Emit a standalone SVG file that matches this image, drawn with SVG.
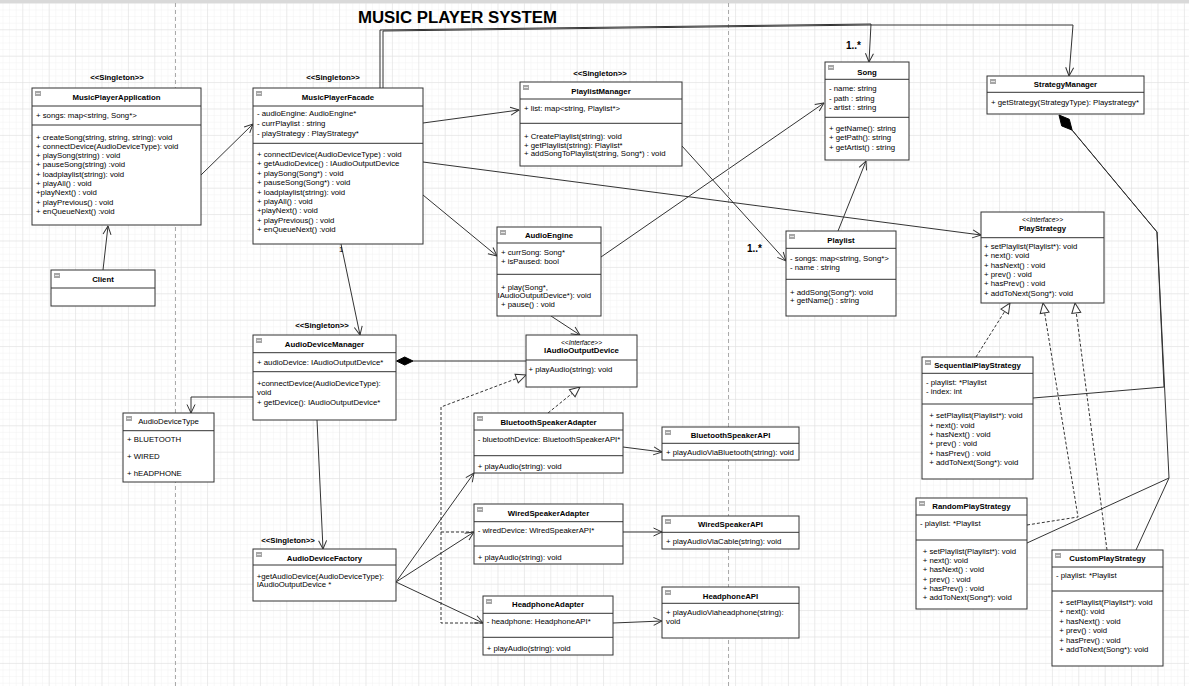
<svg xmlns="http://www.w3.org/2000/svg" xmlns:xlink="http://www.w3.org/1999/xlink" width="1189" height="686" viewBox="0 0 1189 686">
<style>
.box{fill:#fff;stroke:#333;stroke-width:1}
.sep{stroke:#333;stroke-width:1}
.t{font-family:"Liberation Sans",Arial,Helvetica,sans-serif;font-size:7.8px;fill:#000}
.b{font-weight:bold}
.c{text-anchor:middle}
.i{font-style:italic;font-size:6.6px}
.ln{stroke:#333;stroke-width:1;fill:none}
.dash{stroke-dasharray:3,2}
.ml{font-family:"Liberation Sans",Arial,sans-serif;font-size:10px;font-weight:bold;fill:#000}
</style>
<defs>
<pattern id="minor" width="6.6" height="6.6" x="2.5" y="2.9" patternUnits="userSpaceOnUse"><path d="M0,0 H6.6 M0,0 V6.6" stroke="#f1f1f1" stroke-width="1" fill="none"/></pattern>
<pattern id="major" width="26.4" height="26.4" x="22.3" y="2.9" patternUnits="userSpaceOnUse"><path d="M0,0 H26.4 M0,0 V26.4" stroke="#dedede" stroke-width="1" fill="none"/></pattern>
<g id="ic"><rect width="6" height="5" fill="#a6a6a6"/><rect x="1" y="2" width="4" height="1" fill="#e6e6e6"/></g>
<marker id="open" viewBox="0 0 10 10" refX="9.5" refY="5" markerWidth="10" markerHeight="10" markerUnits="userSpaceOnUse" orient="auto"><path d="M1,1 L9.5,5 L1,9" fill="none" stroke="#333" stroke-width="1"/></marker>
<marker id="tri" viewBox="0 0 12 12" refX="11" refY="6" markerWidth="12" markerHeight="12" markerUnits="userSpaceOnUse" orient="auto"><path d="M1,1.5 L11,6 L1,10.5 Z" fill="#fff" stroke="#333" stroke-width="1"/></marker>
</defs>
<rect width="1189" height="686" fill="#fff"/>
<rect width="1189" height="686" fill="url(#minor)"/>
<rect width="1189" height="686" fill="url(#major)"/>
<rect width="1189" height="3" fill="#d9d9d9"/>
<line x1="175.5" y1="3" x2="175.5" y2="686" stroke="#aaa" stroke-dasharray="4,3"/>
<line x1="728.5" y1="3" x2="728.5" y2="686" stroke="#aaa" stroke-dasharray="4,3"/>
<text x="358" y="23" font-family="Liberation Sans,Arial,sans-serif" font-size="16" font-weight="bold" textLength="199" lengthAdjust="spacingAndGlyphs">MUSIC PLAYER SYSTEM</text>

<g id="connectors">
<path class="ln" d="M103,270 L108,226" marker-end="url(#open)"/>
<path class="ln" d="M201,175 L253,124" marker-end="url(#open)"/>
<path class="ln" d="M423,123 L519,110" marker-end="url(#open)"/>
<path class="ln" d="M423,195 L497,256" marker-end="url(#open)"/>
<path class="ln" d="M423,162 L981,235" marker-end="url(#open)"/>
<path class="ln" d="M601,257 L824,103" marker-end="url(#open)"/>
<path class="ln" d="M682,146 L786,261" marker-end="url(#open)"/>
<path class="ln" d="M838,231 L866,161" marker-end="url(#open)"/>
<path class="ln" d="M380,88 V30 L871,24 L869,62" marker-end="url(#open)"/>
<path class="ln" d="M383,88 V31 L871,25 H1073 L1069,76" marker-end="url(#open)"/>
<path class="ln" d="M341,244 L360,335" marker-end="url(#open)"/>
<path class="ln" d="M253,397 H191 V413" marker-end="url(#open)"/>
<path class="ln" d="M413,361 H526"/>
<polygon points="396.5,361 404.7,357 413,361 404.7,365" fill="#000" stroke="#000"/>
<path class="ln" d="M317,420 L323,549" marker-end="url(#open)"/>
<path class="ln" d="M551,316 L580,335" marker-end="url(#open)"/>
<path class="ln dash" d="M548,413 L580,387" marker-end="url(#tri)"/>
<path class="ln dash" d="M483,623 H441 V407 L526,375" marker-end="url(#tri)"/>
<path class="ln dash" d="M474,532 H441"/>
<path class="ln" d="M623,447 L662,452" marker-end="url(#open)"/>
<path class="ln" d="M623,532 H662" marker-end="url(#open)"/>
<path class="ln" d="M613,623 L662,621" marker-end="url(#open)"/>
<path class="ln" d="M396,582 L474,473" marker-end="url(#open)"/>
<path class="ln" d="M396,582 L474,532" marker-end="url(#open)"/>
<path class="ln" d="M396,582 L483,623" marker-end="url(#open)"/>
<path class="ln dash" d="M976,357 L1010,303" marker-end="url(#tri)"/>
<path class="ln dash" d="M1027,525 L1078,517 L1043,303" marker-end="url(#tri)"/>
<path class="ln dash" d="M1107,550 L1075,303" marker-end="url(#tri)"/>
<path class="ln" d="M1033,398 L1164,387 L1157,232 L1072,130"/>
<path class="ln" d="M1027,543 L1169,478 L1157,232 L1072,130"/>
<path class="ln" d="M1136,550 L1169,478"/>
<polygon points="1059,115 1069.3,119.3 1072.1,130.1 1061.7,125.9" fill="#000" stroke="#000"/>
<text class="ml" x="846" y="49">1..*</text>
<text class="ml" x="747" y="252">1..*</text>
<text class="t" x="339" y="252" font-size="6">1</text>
</g>

<g id="musicPlayerApplication">
<text class="t b c" x="117" y="80">&lt;&lt;Singleton&gt;&gt;</text>
<rect class="box" x="32" y="88" width="169" height="137"/>
<use href="#ic" x="35" y="91"/>
<line class="sep" x1="32" y1="106" x2="201" y2="106"/>
<line class="sep" x1="32" y1="125" x2="201" y2="125"/>
<text class="t b c" x="116.5" y="100">MusicPlayerApplication</text>
<text class="t" x="36" y="118">+ songs: map&lt;string, Song*&gt;</text>
<text class="t" x="36" y="139.5">+ createSong(string, string, string): void</text>
<text class="t" x="36" y="148.5">+ connectDevice(AudioDeviceType): void</text>
<text class="t" x="36" y="157.8">+ playSong(string) : void</text>
<text class="t" x="36" y="167.1">+ pauseSong(string) :void</text>
<text class="t" x="36" y="176.8">+ loadplaylist(string): void</text>
<text class="t" x="36" y="186.1">+ playAll() : void</text>
<text class="t" x="36" y="195.1">+playNext() : void</text>
<text class="t" x="36" y="205.1">+ playPrevious() : void</text>
<text class="t" x="36" y="214.1">+ enQueueNext() :void</text>
</g>

<g id="client">
<rect class="box" x="51" y="270" width="104" height="36"/>
<use href="#ic" x="54" y="273"/>
<line class="sep" x1="51" y1="288" x2="155" y2="288"/>
<text class="t b c" x="103" y="282">Client</text>
</g>

<g id="musicPlayerFacade">
<text class="t b c" x="333" y="80">&lt;&lt;Singleton&gt;&gt;</text>
<rect class="box" x="253" y="88" width="170" height="156"/>
<use href="#ic" x="256" y="91"/>
<line class="sep" x1="253" y1="106" x2="423" y2="106"/>
<line class="sep" x1="253" y1="143.3" x2="423" y2="143.3"/>
<text class="t b c" x="338" y="100">MusicPlayerFacade</text>
<text class="t" x="257" y="116.1">- audioEngine: AudioEngine*</text>
<text class="t" x="257" y="126.1">- currPlaylist : string</text>
<text class="t" x="257" y="136.1">- playStrategy : PlayStrategy*</text>
<text class="t" x="257" y="157.1">+ connectDevice(AudioDeviceType) : void</text>
<text class="t" x="257" y="166.1">+ getAudioDevice() : IAudioOutputDevice</text>
<text class="t" x="257" y="175.5">+ playSong(Song*) : void</text>
<text class="t" x="257" y="185.1">+ pauseSong(Song*) : void</text>
<text class="t" x="257" y="195.1">+ loadplaylist(string): void</text>
<text class="t" x="257" y="204.1">+ playAll() : void</text>
<text class="t" x="257" y="213.1">+playNext() : void</text>
<text class="t" x="257" y="223.1">+ playPrevious() : void</text>
<text class="t" x="257" y="232.1">+ enQueueNext() :void</text>
</g>

<g id="playlistManager">
<text class="t b c" x="600" y="76">&lt;&lt;Singleton&gt;&gt;</text>
<rect class="box" x="520" y="82" width="162" height="84"/>
<use href="#ic" x="523" y="85"/>
<line class="sep" x1="520" y1="99" x2="682" y2="99"/>
<line class="sep" x1="520" y1="123.3" x2="682" y2="123.3"/>
<text class="t b c" x="601" y="93.5">PlaylistManager</text>
<text class="t" x="524" y="110.5">+ list: map&lt;string, Playlist*&gt;</text>
<text class="t" x="524" y="138.5">+ CreatePlaylist(string): void</text>
<text class="t" x="524" y="147.5">+ getPlaylist(string): Playlist*</text>
<text class="t" x="524" y="156.1">+ addSongToPlaylist(string, Song*) : void</text>
</g>

<g id="audioEngine">
<rect class="box" x="497" y="227" width="104" height="89"/>
<use href="#ic" x="500" y="230"/>
<line class="sep" x1="497" y1="243" x2="601" y2="243"/>
<line class="sep" x1="497" y1="274.3" x2="601" y2="274.3"/>
<text class="t b c" x="549" y="237.8">AudioEngine</text>
<text class="t" x="501" y="255.1">+ currSong: Song*</text>
<text class="t" x="501" y="264.1">+ isPaused: bool</text>
<text class="t" x="501" y="289.5">+ play(Song*,</text>
<text class="t" x="497.5" y="298.1">IAudioOutputDevice*): void</text>
<text class="t" x="501" y="307.1">+ pause() : void</text>
</g>

<g id="song">
<rect class="box" x="825" y="62" width="84" height="98"/>
<use href="#ic" x="828" y="65"/>
<line class="sep" x1="825" y1="79.3" x2="909" y2="79.3"/>
<line class="sep" x1="825" y1="117.3" x2="909" y2="117.3"/>
<text class="t b c" x="867" y="74.5">Song</text>
<text class="t" x="829" y="91.1">- name: string</text>
<text class="t" x="829" y="100.5">- path : string</text>
<text class="t" x="829" y="110.1">- artist : string</text>
<text class="t" x="829" y="131.1">+ getName(): string</text>
<text class="t" x="829" y="140.1">+ getPath(): string</text>
<text class="t" x="829" y="150.1">+ getArtist() : string</text>
</g>

<g id="playlist">
<rect class="box" x="786" y="231" width="110" height="85"/>
<use href="#ic" x="789" y="234"/>
<line class="sep" x1="786" y1="248.3" x2="896" y2="248.3"/>
<line class="sep" x1="786" y1="279.3" x2="896" y2="279.3"/>
<text class="t b c" x="841" y="242.8">Playlist</text>
<text class="t" x="790" y="260.8">- songs: map&lt;string, Song*&gt;</text>
<text class="t" x="790" y="269.5">- name : string</text>
<text class="t" x="790" y="294.5">+ addSong(Song*): void</text>
<text class="t" x="790" y="303.1">+ getName() : string</text>
</g>

<g id="strategyManager">
<rect class="box" x="987" y="76" width="157" height="38"/>
<use href="#ic" x="990" y="79"/>
<line class="sep" x1="987" y1="92.3" x2="1144" y2="92.3"/>
<text class="t b c" x="1065.5" y="87.1">StrategyManager</text>
<text class="t" x="991" y="104.8">+ getStrategy(StrategyType): Playstrategy*</text>
</g>

<g id="playStrategy">
<rect class="box" x="981" y="212" width="123" height="91"/>
<line class="sep" x1="981" y1="237.7" x2="1104" y2="237.7"/>
<text class="t i c" x="1042.5" y="221.5">&lt;&lt;Interface&gt;&gt;</text>
<text class="t b c" x="1042.5" y="231.1">PlayStrategy</text>
<text class="t" x="984" y="248.8">+ setPlaylist(Playlist*): void</text>
<text class="t" x="984" y="258.1">+ next(): void</text>
<text class="t" x="984" y="267.8">+ hasNext() : void</text>
<text class="t" x="984" y="277.1">+ prev() : void</text>
<text class="t" x="984" y="286.1">+ hasPrev() : void</text>
<text class="t" x="984" y="296.1">+ addToNext(Song*): void</text>
</g>

<g id="audioDeviceManager">
<text class="t b c" x="322" y="327.8">&lt;&lt;Singleton&gt;&gt;</text>
<rect class="box" x="253" y="335" width="143" height="85"/>
<use href="#ic" x="256" y="338"/>
<line class="sep" x1="253" y1="352.7" x2="396" y2="352.7"/>
<line class="sep" x1="253" y1="371.7" x2="396" y2="371.7"/>
<text class="t b c" x="324.5" y="347.1">AudioDeviceManager</text>
<text class="t" x="257" y="364.5">+ audioDevice: IAudioOutputDevice*</text>
<text class="t" x="257" y="386.1">+connectDevice(AudioDeviceType):</text>
<text class="t" x="257" y="395.1">void</text>
<text class="t" x="257" y="404.8">+ getDevice(): IAudioOutputDevice*</text>
</g>

<g id="audioDeviceType">
<rect class="box" x="123" y="413" width="91" height="69"/>
<use href="#ic" x="126" y="416"/>
<line class="sep" x1="123" y1="430.7" x2="214" y2="430.7"/>
<text class="t c" x="168.5" y="423.8">AudioDeviceType</text>
<text class="t" x="127" y="441.8">+ BLUETOOTH</text>
<text class="t" x="127" y="458.8">+ WIRED</text>
<text class="t" x="127" y="476.1">+ hEADPHONE</text>
</g>

<g id="iAudioOutputDevice">
<rect class="box" x="526" y="335" width="111" height="52"/>
<line class="sep" x1="526" y1="360" x2="637" y2="360"/>
<text class="t i c" x="581.5" y="344.5">&lt;&lt;Interface&gt;&gt;</text>
<text class="t b c" x="581.5" y="352.8">IAudioOutputDevice</text>
<text class="t" x="528.5" y="372.1">+ playAudio(string): void</text>
</g>

<g id="bluetoothSpeakerAdapter">
<rect class="box" x="474" y="413" width="149" height="60"/>
<use href="#ic" x="477" y="416"/>
<line class="sep" x1="474" y1="430" x2="623" y2="430"/>
<line class="sep" x1="474" y1="455.7" x2="623" y2="455.7"/>
<text class="t b c" x="548.5" y="424.8">BluetoothSpeakerAdapter</text>
<text class="t" x="477.7" y="441.8">- bluetoothDevice: BluetoothSpeakerAPI*</text>
<text class="t" x="477.7" y="469.1">+ playAudio(string): void</text>
</g>

<g id="wiredSpeakerAdapter">
<rect class="box" x="474" y="504" width="149" height="60"/>
<use href="#ic" x="477" y="507"/>
<line class="sep" x1="474" y1="521.7" x2="623" y2="521.7"/>
<line class="sep" x1="474" y1="546" x2="623" y2="546"/>
<text class="t b c" x="548.5" y="515.8">WiredSpeakerAdapter</text>
<text class="t" x="477.7" y="533.1">- wiredDevice: WiredSpeakerAPI*</text>
<text class="t" x="477.7" y="560.1">+ playAudio(string): void</text>
</g>

<g id="headphoneAdapter">
<rect class="box" x="483" y="596" width="130" height="59"/>
<use href="#ic" x="486" y="599"/>
<line class="sep" x1="483" y1="613.3" x2="613" y2="613.3"/>
<line class="sep" x1="483" y1="637.3" x2="613" y2="637.3"/>
<text class="t b c" x="548" y="607.1">HeadphoneAdapter</text>
<text class="t" x="486.7" y="624.1">- headphone: HeadphoneAPI*</text>
<text class="t" x="486.7" y="651.1">+ playAudio(string): void</text>
</g>

<g id="bluetoothSpeakerAPI">
<rect class="box" x="662" y="427" width="137" height="33"/>
<use href="#ic" x="665" y="430"/>
<line class="sep" x1="662" y1="443.3" x2="799" y2="443.3"/>
<text class="t b c" x="730.5" y="437.8">BluetoothSpeakerAPI</text>
<text class="t" x="666" y="455.1">+ playAudioViaBluetooth(string): void</text>
</g>

<g id="wiredSpeakerAPI">
<rect class="box" x="662" y="516" width="137" height="33"/>
<use href="#ic" x="665" y="519"/>
<line class="sep" x1="662" y1="532.3" x2="799" y2="532.3"/>
<text class="t b c" x="730.5" y="527.1">WiredSpeakerAPI</text>
<text class="t" x="666" y="543.8">+ playAudioViaCable(string): void</text>
</g>

<g id="headphoneAPI">
<rect class="box" x="662" y="587" width="137" height="51"/>
<use href="#ic" x="665" y="590"/>
<line class="sep" x1="662" y1="603.3" x2="799" y2="603.3"/>
<text class="t b c" x="730.5" y="598.5">HeadphoneAPI</text>
<text class="t" x="666" y="615.1">+ playAudioViaheadphone(string):</text>
<text class="t" x="666" y="624.1">void</text>
</g>

<g id="audioDeviceFactory">
<text class="t b c" x="288" y="542.8">&lt;&lt;Singleton&gt;&gt;</text>
<rect class="box" x="253" y="549" width="143" height="52"/>
<use href="#ic" x="256" y="552"/>
<line class="sep" x1="253" y1="565" x2="396" y2="565"/>
<text class="t b c" x="324.5" y="561.1">AudioDeviceFactory</text>
<text class="t" x="256.7" y="578.8">+getAudioDevice(AudioDeviceType):</text>
<text class="t" x="256.7" y="586.8">IAudioOutputDevice *</text>
</g>

<g id="sequentialPlayStrategy">
<rect class="box" x="922" y="357" width="111" height="122"/>
<use href="#ic" x="925" y="360"/>
<line class="sep" x1="922" y1="373.3" x2="1033" y2="373.3"/>
<line class="sep" x1="922" y1="404" x2="1033" y2="404"/>
<text class="t b c" x="977.5" y="368.1">SequentialPlayStrategy</text>
<text class="t" x="926" y="385.1">- playlist: *Playlist</text>
<text class="t" x="926" y="394.1">- index: int</text>
<text class="t" x="929.3" y="417.8">+ setPlaylist(Playlist*): void</text>
<text class="t" x="929.3" y="428.1">+ next(): void</text>
<text class="t" x="929.3" y="436.8">+ hasNext() : void</text>
<text class="t" x="929.3" y="445.8">+ prev() : void</text>
<text class="t" x="929.3" y="455.8">+ hasPrev() : void</text>
<text class="t" x="929.3" y="465.1">+ addToNext(Song*): void</text>
</g>

<g id="randomPlayStrategy">
<rect class="box" x="916" y="498" width="111" height="111"/>
<use href="#ic" x="919" y="501"/>
<line class="sep" x1="916" y1="515" x2="1027" y2="515"/>
<line class="sep" x1="916" y1="540" x2="1027" y2="540"/>
<text class="t b c" x="971.5" y="508.8">RandomPlayStrategy</text>
<text class="t" x="920" y="526.1">- playlist: *Playlist</text>
<text class="t" x="922.7" y="554.1">+ setPlaylist(Playlist*): void</text>
<text class="t" x="922.7" y="563.1">+ next(): void</text>
<text class="t" x="922.7" y="572.1">+ hasNext() : void</text>
<text class="t" x="922.7" y="582.1">+ prev() : void</text>
<text class="t" x="922.7" y="591.1">+ hasPrev() : void</text>
<text class="t" x="922.7" y="600.1">+ addToNext(Song*): void</text>
</g>

<g id="customPlayStrategy">
<rect class="box" x="1052" y="550" width="111" height="116"/>
<use href="#ic" x="1055" y="553"/>
<line class="sep" x1="1052" y1="567" x2="1163" y2="567"/>
<line class="sep" x1="1052" y1="591" x2="1163" y2="591"/>
<text class="t b c" x="1107.5" y="561.1">CustomPlayStrategy</text>
<text class="t" x="1056" y="577.8">- playlist: *Playlist</text>
<text class="t" x="1059.3" y="605.1">+ setPlaylist(Playlist*): void</text>
<text class="t" x="1059.3" y="614.1">+ next(): void</text>
<text class="t" x="1059.3" y="623.8">+ hasNext() : void</text>
<text class="t" x="1059.3" y="633.1">+ prev() : void</text>
<text class="t" x="1059.3" y="642.8">+ hasPrev() : void</text>
<text class="t" x="1059.3" y="652.1">+ addToNext(Song*): void</text>
</g>
</svg>
